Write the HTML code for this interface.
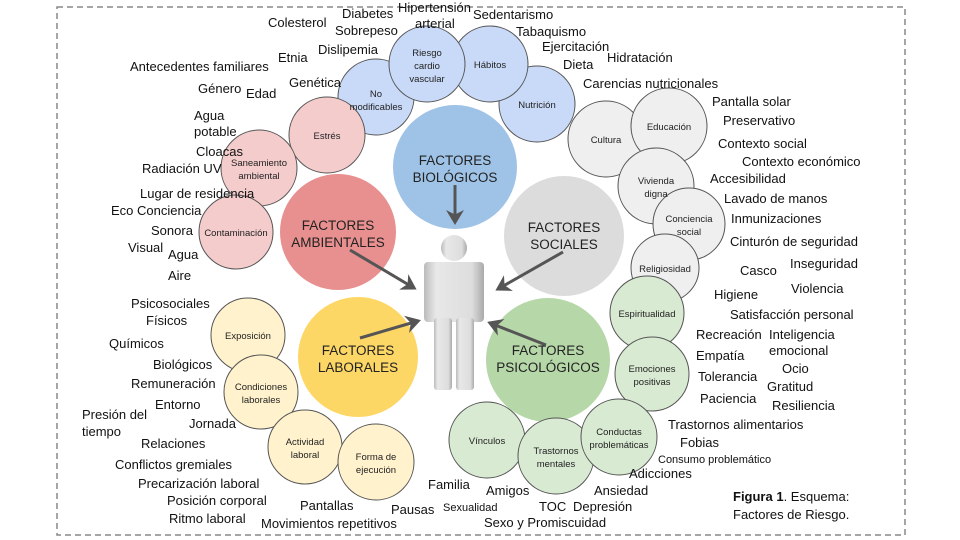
<!DOCTYPE html>
<html><head><meta charset="utf-8"><style>
html,body{margin:0;padding:0;background:#fff;}
svg{display:block;font-family:"Liberation Sans",sans-serif;}
.l{font-size:13px;fill:#111;}
.s{font-size:9.5px;fill:#222;text-anchor:middle;}
.b{font-size:13.5px;fill:#222;text-anchor:middle;}
circle.sm{stroke:#555;stroke-width:1;}
</style></head><body>
<svg width="960" height="540" viewBox="0 0 960 540">
<defs>
<marker id="ah" markerWidth="6" markerHeight="6" refX="4" refY="3" orient="auto" markerUnits="strokeWidth"><path d="M0,0 L5,3 L0,6 L1.5,3z" fill="#555"/></marker>
<linearGradient id="g" x1="0" x2="1"><stop offset="0" stop-color="#bbb"/><stop offset=".2" stop-color="#e8e8e8"/><stop offset=".8" stop-color="#ddd"/><stop offset="1" stop-color="#aaa"/></linearGradient>
</defs>
<rect x="57" y="7" width="848" height="528" fill="none" stroke="#888" stroke-width="1.5" stroke-dasharray="6,4"/>
<!-- big circles -->
<circle cx="455" cy="167" r="62" fill="#9fc3e7"/>
<circle cx="338" cy="232" r="58" fill="#e88f8f"/>
<circle cx="564" cy="236" r="60" fill="#dcdcdc"/>
<circle cx="358" cy="357" r="60" fill="#fdd766"/>
<circle cx="548" cy="360" r="62" fill="#b6d7a8"/>
<text class="b" x="455" y="165">FACTORES</text><text class="b" x="455" y="182">BIOLÓGICOS</text>
<text class="b" x="338" y="230">FACTORES</text><text class="b" x="338" y="247">AMBIENTALES</text>
<text class="b" x="564" y="232">FACTORES</text><text class="b" x="564" y="249">SOCIALES</text>
<text class="b" x="358" y="355">FACTORES</text><text class="b" x="358" y="372">LABORALES</text>
<text class="b" x="548" y="355">FACTORES</text><text class="b" x="548" y="372">PSICOLÓGICOS</text>
<!-- person -->
<ellipse cx="454" cy="248" rx="13" ry="13" fill="url(#g)"/>
<rect x="424" y="262" width="60" height="60" rx="4" fill="url(#g)"/>
<rect x="434" y="318" width="18" height="72" rx="3" fill="url(#g)"/>
<rect x="456" y="318" width="18" height="72" rx="3" fill="url(#g)"/>
<!-- arrows -->
<g stroke="#555" stroke-width="3" fill="none" marker-end="url(#ah)">
<line x1="455" y1="185" x2="455" y2="222"/>
<line x1="350" y1="250" x2="414" y2="288"/>
<line x1="563" y1="252" x2="498" y2="289"/>
<line x1="360" y1="338" x2="418" y2="321"/>
<line x1="546" y1="345" x2="490" y2="323"/>
</g>
<!-- small circles -->
<g class="sm">
<circle class="sm" cx="537" cy="104" r="38" fill="#c9daf8"/>
<circle class="sm" cx="490" cy="64" r="38" fill="#c9daf8"/>
<circle class="sm" cx="376" cy="97" r="38" fill="#c9daf8"/>
<circle class="sm" cx="427" cy="64" r="38" fill="#c9daf8"/>
<circle class="sm" cx="327" cy="135" r="38" fill="#f4cccc"/>
<circle class="sm" cx="259" cy="168" r="38" fill="#f4cccc"/>
<circle class="sm" cx="236" cy="232" r="37" fill="#f4cccc"/>
<circle class="sm" cx="606" cy="139" r="38" fill="#efefef"/>
<circle class="sm" cx="669" cy="126" r="38" fill="#efefef"/>
<circle class="sm" cx="656" cy="186" r="38" fill="#efefef"/>
<circle class="sm" cx="689" cy="224" r="36" fill="#efefef"/>
<circle class="sm" cx="665" cy="268" r="34" fill="#efefef"/>
<circle class="sm" cx="647" cy="313" r="37" fill="#d9ead3"/>
<circle class="sm" cx="652" cy="374" r="37" fill="#d9ead3"/>
<circle class="sm" cx="487" cy="440" r="38" fill="#d9ead3"/>
<circle class="sm" cx="556" cy="456" r="38" fill="#d9ead3"/>
<circle class="sm" cx="619" cy="437" r="38" fill="#d9ead3"/>
<circle class="sm" cx="248" cy="335" r="37" fill="#fff2cc"/>
<circle class="sm" cx="261" cy="392" r="37" fill="#fff2cc"/>
<circle class="sm" cx="305" cy="447" r="37" fill="#fff2cc"/>
<circle class="sm" cx="376" cy="462" r="38" fill="#fff2cc"/>
</g>
<text class="s" x="537" y="108">Nutrición</text>
<text class="s" x="490" y="68">Hábitos</text>
<text class="s" x="376" y="97">No</text><text class="s" x="376" y="110">modificables</text>
<text class="s" x="427" y="56">Riesgo</text><text class="s" x="427" y="69">cardio</text><text class="s" x="427" y="82">vascular</text>
<text class="s" x="327" y="139">Estrés</text>
<text class="s" x="259" y="166">Saneamiento</text><text class="s" x="259" y="179">ambiental</text>
<text class="s" x="236" y="236">Contaminación</text>
<text class="s" x="606" y="143">Cultura</text>
<text class="s" x="669" y="130">Educación</text>
<text class="s" x="656" y="184">Vivienda</text><text class="s" x="656" y="197">digna</text>
<text class="s" x="689" y="222">Conciencia</text><text class="s" x="689" y="235">social</text>
<text class="s" x="665" y="272">Religiosidad</text>
<text class="s" x="647" y="317">Espiritualidad</text>
<text class="s" x="652" y="372">Emociones</text><text class="s" x="652" y="385">positivas</text>
<text class="s" x="487" y="444">Vínculos</text>
<text class="s" x="556" y="454">Trastornos</text><text class="s" x="556" y="467">mentales</text>
<text class="s" x="619" y="435">Conductas</text><text class="s" x="619" y="448">problemáticas</text>
<text class="s" x="248" y="339">Exposición</text>
<text class="s" x="261" y="390">Condiciones</text><text class="s" x="261" y="403">laborales</text>
<text class="s" x="305" y="445">Actividad</text><text class="s" x="305" y="458">laboral</text>
<text class="s" x="376" y="460">Forma de</text><text class="s" x="376" y="473">ejecución</text>
<!-- labels -->
<g class="l">
<text class="l" x="268" y="27">Colesterol</text>
<text class="l" x="342" y="18">Diabetes</text>
<text class="l" x="398" y="12">Hipertensión</text>
<text class="l" x="415" y="28">arterial</text>
<text class="l" x="473" y="19">Sedentarismo</text>
<text class="l" x="335" y="35">Sobrepeso</text>
<text class="l" x="516" y="36">Tabaquismo</text>
<text class="l" x="318" y="54">Dislipemia</text>
<text class="l" x="278" y="62">Etnia</text>
<text class="l" x="542" y="51">Ejercitación</text>
<text class="l" x="607" y="62">Hidratación</text>
<text class="l" x="130" y="71">Antecedentes familiares</text>
<text class="l" x="563" y="69">Dieta</text>
<text class="l" x="289" y="87">Genética</text>
<text class="l" x="198" y="93">Género</text>
<text class="l" x="246" y="98">Edad</text>
<text class="l" x="583" y="88">Carencias nutricionales</text>
<text class="l" x="712" y="106">Pantalla solar</text>
<text class="l" x="194" y="120">Agua</text>
<text class="l" x="194" y="136">potable</text>
<text class="l" x="723" y="125">Preservativo</text>
<text class="l" x="196" y="156">Cloacas</text>
<text class="l" x="718" y="148">Contexto social</text>
<text class="l" x="142" y="173">Radiación UV</text>
<text class="l" x="742" y="166">Contexto económico</text>
<text class="l" x="710" y="183">Accesibilidad</text>
<text class="l" x="140" y="198">Lugar de residencia</text>
<text class="l" x="724" y="203">Lavado de manos</text>
<text class="l" x="111" y="215">Eco Conciencia</text>
<text class="l" x="731" y="223">Inmunizaciones</text>
<text class="l" x="151" y="235">Sonora</text>
<text class="l" x="730" y="246">Cinturón de seguridad</text>
<text class="l" x="128" y="252">Visual</text>
<text class="l" x="168" y="259">Agua</text>
<text class="l" x="790" y="268">Inseguridad</text>
<text class="l" x="740" y="275">Casco</text>
<text class="l" x="168" y="280">Aire</text>
<text class="l" x="791" y="293">Violencia</text>
<text class="l" x="714" y="299">Higiene</text>
<text class="l" x="131" y="308">Psicosociales</text>
<text class="l" x="730" y="319">Satisfacción personal</text>
<text class="l" x="146" y="325">Físicos</text>
<text class="l" x="696" y="339">Recreación</text>
<text class="l" x="769" y="339">Inteligencia</text>
<text class="l" x="769" y="355">emocional</text>
<text class="l" x="109" y="348">Químicos</text>
<text class="l" x="696" y="360">Empatía</text>
<text class="l" x="153" y="369">Biológicos</text>
<text class="l" x="782" y="373">Ocio</text>
<text class="l" x="698" y="381">Tolerancia</text>
<text class="l" x="131" y="388">Remuneración</text>
<text class="l" x="767" y="391">Gratitud</text>
<text class="l" x="700" y="403">Paciencia</text>
<text class="l" x="155" y="409">Entorno</text>
<text class="l" x="772" y="410">Resiliencia</text>
<text class="l" x="82" y="419">Presión del</text>
<text class="l" x="189" y="428">Jornada</text>
<text class="l" x="82" y="436">tiempo</text>
<text class="l" x="668" y="429">Trastornos alimentarios</text>
<text class="l" x="141" y="448">Relaciones</text>
<text class="l" x="680" y="447">Fobias</text>
<text class="l" x="658" y="463" style="font-size:11px">Consumo problemático</text>
<text class="l" x="115" y="469">Conflictos gremiales</text>
<text class="l" x="629" y="478">Adicciones</text>
<text class="l" x="428" y="489">Familia</text>
<text class="l" x="138" y="488">Precarización laboral</text>
<text class="l" x="594" y="495">Ansiedad</text>
<text class="l" x="486" y="495">Amigos</text>
<text class="l" x="443" y="511" style="font-size:11px">Sexualidad</text>
<text class="l" x="539" y="511">TOC</text>
<text class="l" x="573" y="511">Depresión</text>
<text class="l" x="167" y="505">Posición corporal</text>
<text class="l" x="300" y="510">Pantallas</text>
<text class="l" x="391" y="514">Pausas</text>
<text class="l" x="484" y="527">Sexo y Promiscuidad</text>
<text class="l" x="169" y="523">Ritmo laboral</text>
<text class="l" x="261" y="528">Movimientos repetitivos</text>
<text class="l" x="733" y="501"><tspan font-weight="bold">Figura 1</tspan>. Esquema:</text>
<text class="l" x="733" y="519">Factores de Riesgo.</text>
</g>
</svg>
</body></html>
